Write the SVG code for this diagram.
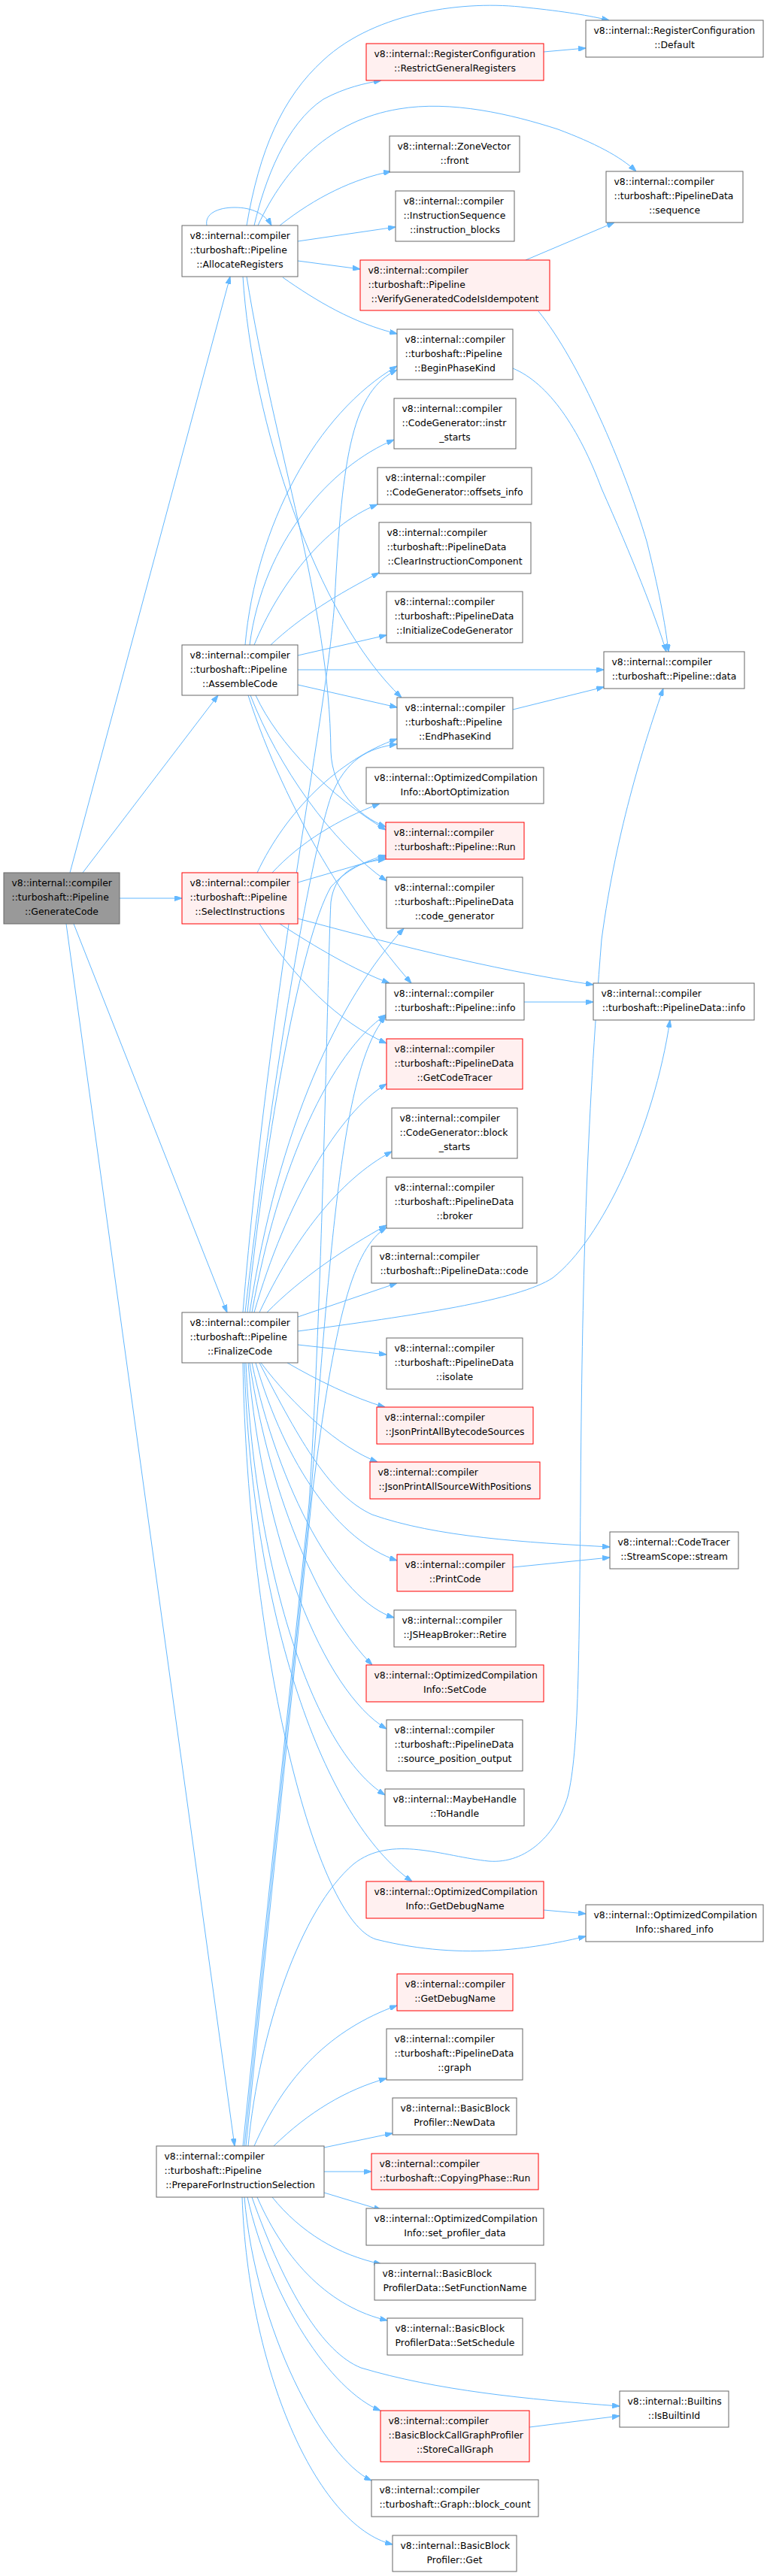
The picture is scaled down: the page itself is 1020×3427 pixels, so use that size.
<svg xmlns="http://www.w3.org/2000/svg" width="1020" height="3427" viewBox="0 0 1020 3427">
<style>
.n rect{fill:#ffffff;stroke:#666666;stroke-width:1}
.r rect{fill:#fff0f0;stroke:#ff0000;stroke-width:1}
.g rect{fill:#999999;stroke:#666666;stroke-width:1}
text{font-family:"DejaVu Sans",sans-serif;font-size:12.4px;fill:#000000}
.m{text-anchor:middle}
#edges path{fill:none;stroke:#63b8ff;stroke-width:1;marker-end:url(#a)}
</style>
<defs>
<marker id="a" viewBox="0 0 10 7" refX="10" refY="3.5" markerWidth="10" markerHeight="7" orient="auto" markerUnits="userSpaceOnUse"><path d="M0,0L10,3.5L0,7z" fill="#63b8ff" stroke="#63b8ff"/></marker>
</defs>
<rect width="1020" height="3427" fill="#ffffff"/>
<g id="edges">
<path d="M93,1161L306,368"/>
<path d="M110,1161L290,925"/>
<path d="M159,1195L242,1195"/>
<path d="M98,1229L302,1746"/>
<path d="M88,1229L312,2855"/>
<path d="M275,300C272,284 290,276 312,276C335,276 352,284 361,300"/>
<path d="M328,300C345,200 375,130 430,80C500,15 620,0 700,10C750,15 785,21 810,27"/>
<path d="M338,300C352,240 380,165 430,132C460,116 485,111 507,107"/>
<path d="M343,300C380,220 440,160 530,145C600,133 680,152 742,172C790,190 825,208 846,228"/>
<path d="M372,300C420,262 470,238 520,228"/>
<path d="M396,321L526,302"/>
<path d="M396,347L479,358"/>
<path d="M376,369C420,400 470,430 528,444"/>
<path d="M323,368C335,560 420,820 534,928"/>
<path d="M328,368C365,600 438,800 440,1000C442,1050 475,1085 513,1100"/>
<path d="M723,69L779,64"/>
<path d="M699,346L817,296"/>
<path d="M716,414C770,480 830,620 860,720C875,780 885,830 889,867"/>
<path d="M682,490C730,510 770,570 800,650C840,740 872,820 886,867"/>
<path d="M326,858C340,700 420,550 528,487"/>
<path d="M332,858C350,720 440,620 524,585"/>
<path d="M338,858C370,780 430,700 502,671"/>
<path d="M360,858C400,820 450,790 504,762"/>
<path d="M396,872L514,845"/>
<path d="M396,891L803,891"/>
<path d="M396,911L528,941"/>
<path d="M340,925C370,990 440,1060 513,1104"/>
<path d="M333,925C370,1020 440,1120 514,1172"/>
<path d="M330,925C380,1080 470,1220 547,1308"/>
<path d="M682,944L803,914"/>
<path d="M342,1161C380,1080 450,1010 528,983"/>
<path d="M362,1161C400,1120 450,1090 505,1069"/>
<path d="M396,1174L513,1140"/>
<path d="M372,1229C420,1260 470,1290 518,1308"/>
<path d="M345,1229C390,1300 450,1360 514,1388"/>
<path d="M396,1222C500,1250 650,1290 789,1310"/>
<path d="M697,1333L789,1333"/>
<path d="M323,1746C360,1300 435,950 445,800C455,600 470,520 528,492"/>
<path d="M326,1746C360,1450 410,1150 440,1060C460,1010 490,995 528,990"/>
<path d="M329,1746C355,1500 400,1250 440,1180C460,1158 485,1145 513,1138"/>
<path d="M332,1746C370,1500 450,1330 537,1235"/>
<path d="M335,1746C370,1550 440,1400 513,1350"/>
<path d="M338,1746C380,1600 450,1480 514,1442"/>
<path d="M345,1746C390,1650 450,1570 521,1532"/>
<path d="M355,1746C400,1700 460,1660 514,1630"/>
<path d="M396,1752L528,1707"/>
<path d="M396,1771C550,1750 690,1730 735,1700C800,1650 870,1500 891,1357"/>
<path d="M396,1789L514,1802"/>
<path d="M382,1813C420,1835 470,1860 512,1872"/>
<path d="M347,1813C390,1870 450,1925 502,1945"/>
<path d="M345,1813C400,1920 440,1990 495,2015C580,2045 700,2052 811,2058"/>
<path d="M340,1813C380,1950 450,2050 528,2076"/>
<path d="M335,1813C370,1980 450,2130 524,2152"/>
<path d="M332,1813C360,2000 430,2150 495,2215"/>
<path d="M330,1813C350,2050 430,2250 514,2300"/>
<path d="M327,1813C340,2100 420,2330 512,2388"/>
<path d="M325,1813C335,2150 430,2420 548,2503"/>
<path d="M323,1813C330,2200 420,2555 500,2580C620,2610 720,2590 779,2576"/>
<path d="M682,2085L811,2072"/>
<path d="M723,2541L779,2546"/>
<path d="M323,2855L411,2000C430,1700 435,1300 440,1200C445,1162 470,1148 513,1143"/>
<path d="M325,2855L413,1995C440,1650 455,1420 513,1352"/>
<path d="M327,2855L415,1990C445,1750 470,1660 514,1633"/>
<path d="M330,2855C345,2700 400,2540 470,2480C520,2440 590,2470 650,2476C700,2480 740,2440 755,2390C770,2330 770,2200 772,2000C774,1700 780,1500 800,1250C820,1100 860,980 882,916"/>
<path d="M338,2855C380,2760 440,2700 528,2668"/>
<path d="M364,2855C410,2810 460,2780 514,2765"/>
<path d="M431,2857L522,2838"/>
<path d="M431,2889L494,2889"/>
<path d="M431,2917L507,2940"/>
<path d="M362,2923C400,2970 450,3000 507,3012"/>
<path d="M342,2923C380,3010 440,3070 515,3087"/>
<path d="M335,2923C380,3050 430,3130 480,3150C580,3180 700,3192 824,3201"/>
<path d="M329,2923C360,3060 440,3180 506,3207"/>
<path d="M325,2923C340,3100 430,3270 494,3300"/>
<path d="M322,2923C330,3150 420,3360 522,3385"/>
<path d="M704,3229L824,3214"/>
</g>
<g id="GC" class="g"><rect x="5" y="1161" width="154" height="68"/><text x="15.5" y="1179.3">v8::internal::compiler</text><text x="15.5" y="1198.3">::turboshaft::Pipeline</text><text x="82" y="1217.3" class="m">::GenerateCode</text></g>
<g id="AR" class="n"><rect x="242" y="300" width="154" height="68"/><text x="252.5" y="318.3">v8::internal::compiler</text><text x="252.5" y="337.3">::turboshaft::Pipeline</text><text x="319" y="356.3" class="m">::AllocateRegisters</text></g>
<g id="AC" class="n"><rect x="242" y="858" width="154" height="67"/><text x="252.5" y="876.3">v8::internal::compiler</text><text x="252.5" y="895.3">::turboshaft::Pipeline</text><text x="319" y="914.3" class="m">::AssembleCode</text></g>
<g id="SI" class="r"><rect x="242" y="1161" width="154" height="68"/><text x="252.5" y="1179.3">v8::internal::compiler</text><text x="252.5" y="1198.3">::turboshaft::Pipeline</text><text x="319" y="1217.3" class="m">::SelectInstructions</text></g>
<g id="FC" class="n"><rect x="242" y="1746" width="154" height="67"/><text x="252.5" y="1764.3">v8::internal::compiler</text><text x="252.5" y="1783.3">::turboshaft::Pipeline</text><text x="319" y="1802.3" class="m">::FinalizeCode</text></g>
<g id="PFIS" class="n"><rect x="208" y="2855" width="223" height="68"/><text x="218.5" y="2873.3">v8::internal::compiler</text><text x="218.5" y="2892.3">::turboshaft::Pipeline</text><text x="319.5" y="2911.3" class="m">::PrepareForInstructionSelection</text></g>
<g id="RGR" class="r"><rect x="487" y="58" width="236" height="49"/><text x="497.5" y="76.3">v8::internal::RegisterConfiguration</text><text x="605" y="95.3" class="m">::RestrictGeneralRegisters</text></g>
<g id="ZVF" class="n"><rect x="518" y="181" width="173" height="48"/><text x="528.5" y="199.3">v8::internal::ZoneVector</text><text x="604.5" y="218.3" class="m">::front</text></g>
<g id="IB" class="n"><rect x="526" y="254" width="158" height="67"/><text x="536.5" y="272.3">v8::internal::compiler</text><text x="536.5" y="291.3">::InstructionSequence</text><text x="605" y="310.3" class="m">::instruction_blocks</text></g>
<g id="VGCI" class="r"><rect x="479" y="346" width="252" height="67"/><text x="489.5" y="364.3">v8::internal::compiler</text><text x="489.5" y="383.3">::turboshaft::Pipeline</text><text x="605" y="402.3" class="m">::VerifyGeneratedCodeIsIdempotent</text></g>
<g id="BPK" class="n"><rect x="528" y="438" width="154" height="67"/><text x="538.5" y="456.3">v8::internal::compiler</text><text x="538.5" y="475.3">::turboshaft::Pipeline</text><text x="605" y="494.3" class="m">::BeginPhaseKind</text></g>
<g id="IS" class="n"><rect x="524" y="530" width="162" height="67"/><text x="534.5" y="548.3">v8::internal::compiler</text><text x="534.5" y="567.3">::CodeGenerator::instr</text><text x="605" y="586.3" class="m">_starts</text></g>
<g id="OI" class="n"><rect x="502" y="622" width="205" height="49"/><text x="512.5" y="640.3">v8::internal::compiler</text><text x="604.5" y="659.3" class="m">::CodeGenerator::offsets_info</text></g>
<g id="CIC" class="n"><rect x="504" y="695" width="202" height="68"/><text x="514.5" y="713.3">v8::internal::compiler</text><text x="514.5" y="732.3">::turboshaft::PipelineData</text><text x="605" y="751.3" class="m">::ClearInstructionComponent</text></g>
<g id="ICG" class="n"><rect x="514" y="787" width="181" height="68"/><text x="524.5" y="805.3">v8::internal::compiler</text><text x="524.5" y="824.3">::turboshaft::PipelineData</text><text x="604.5" y="843.3" class="m">::InitializeCodeGenerator</text></g>
<g id="EPK" class="n"><rect x="528" y="928" width="154" height="68"/><text x="538.5" y="946.3">v8::internal::compiler</text><text x="538.5" y="965.3">::turboshaft::Pipeline</text><text x="605" y="984.3" class="m">::EndPhaseKind</text></g>
<g id="AO" class="n"><rect x="487" y="1021" width="236" height="48"/><text x="497.5" y="1039.3">v8::internal::OptimizedCompilation</text><text x="605" y="1058.3" class="m">Info::AbortOptimization</text></g>
<g id="RUN" class="r"><rect x="513" y="1094" width="184" height="49"/><text x="523.5" y="1112.3">v8::internal::compiler</text><text x="605" y="1131.3" class="m">::turboshaft::Pipeline::Run</text></g>
<g id="CG" class="n"><rect x="514" y="1167" width="181" height="68"/><text x="524.5" y="1185.3">v8::internal::compiler</text><text x="524.5" y="1204.3">::turboshaft::PipelineData</text><text x="604.5" y="1223.3" class="m">::code_generator</text></g>
<g id="PI" class="n"><rect x="513" y="1308" width="184" height="49"/><text x="523.5" y="1326.3">v8::internal::compiler</text><text x="605" y="1345.3" class="m">::turboshaft::Pipeline::info</text></g>
<g id="GCT" class="r"><rect x="514" y="1382" width="181" height="67"/><text x="524.5" y="1400.3">v8::internal::compiler</text><text x="524.5" y="1419.3">::turboshaft::PipelineData</text><text x="604.5" y="1438.3" class="m">::GetCodeTracer</text></g>
<g id="BS" class="n"><rect x="521" y="1474" width="167" height="67"/><text x="531.5" y="1492.3">v8::internal::compiler</text><text x="531.5" y="1511.3">::CodeGenerator::block</text><text x="604.5" y="1530.3" class="m">_starts</text></g>
<g id="BR" class="n"><rect x="514" y="1566" width="181" height="68"/><text x="524.5" y="1584.3">v8::internal::compiler</text><text x="524.5" y="1603.3">::turboshaft::PipelineData</text><text x="604.5" y="1622.3" class="m">::broker</text></g>
<g id="CODE" class="n"><rect x="494" y="1658" width="220" height="49"/><text x="504.5" y="1676.3">v8::internal::compiler</text><text x="604" y="1695.3" class="m">::turboshaft::PipelineData::code</text></g>
<g id="ISO" class="n"><rect x="514" y="1780" width="181" height="68"/><text x="524.5" y="1798.3">v8::internal::compiler</text><text x="524.5" y="1817.3">::turboshaft::PipelineData</text><text x="604.5" y="1836.3" class="m">::isolate</text></g>
<g id="JBS" class="r"><rect x="501" y="1872" width="208" height="49"/><text x="511.5" y="1890.3">v8::internal::compiler</text><text x="605" y="1909.3" class="m">::JsonPrintAllBytecodeSources</text></g>
<g id="JSP" class="r"><rect x="492" y="1945" width="226" height="49"/><text x="502.5" y="1963.3">v8::internal::compiler</text><text x="605" y="1982.3" class="m">::JsonPrintAllSourceWithPositions</text></g>
<g id="PC" class="r"><rect x="528" y="2068" width="154" height="49"/><text x="538.5" y="2086.3">v8::internal::compiler</text><text x="605" y="2105.3" class="m">::PrintCode</text></g>
<g id="RET" class="n"><rect x="524" y="2142" width="162" height="49"/><text x="534.5" y="2160.3">v8::internal::compiler</text><text x="605" y="2179.3" class="m">::JSHeapBroker::Retire</text></g>
<g id="SC" class="r"><rect x="487" y="2215" width="236" height="49"/><text x="497.5" y="2233.3">v8::internal::OptimizedCompilation</text><text x="605" y="2252.3" class="m">Info::SetCode</text></g>
<g id="SPO" class="n"><rect x="514" y="2288" width="181" height="68"/><text x="524.5" y="2306.3">v8::internal::compiler</text><text x="524.5" y="2325.3">::turboshaft::PipelineData</text><text x="604.5" y="2344.3" class="m">::source_position_output</text></g>
<g id="TH" class="n"><rect x="512" y="2380" width="185" height="49"/><text x="522.5" y="2398.3">v8::internal::MaybeHandle</text><text x="604.5" y="2417.3" class="m">::ToHandle</text></g>
<g id="OGDN" class="r"><rect x="487" y="2503" width="236" height="49"/><text x="497.5" y="2521.3">v8::internal::OptimizedCompilation</text><text x="605" y="2540.3" class="m">Info::GetDebugName</text></g>
<g id="GDN" class="r"><rect x="528" y="2626" width="154" height="49"/><text x="538.5" y="2644.3">v8::internal::compiler</text><text x="605" y="2663.3" class="m">::GetDebugName</text></g>
<g id="GR" class="n"><rect x="514" y="2699" width="181" height="68"/><text x="524.5" y="2717.3">v8::internal::compiler</text><text x="524.5" y="2736.3">::turboshaft::PipelineData</text><text x="604.5" y="2755.3" class="m">::graph</text></g>
<g id="ND" class="n"><rect x="522" y="2791" width="165" height="49"/><text x="532.5" y="2809.3">v8::internal::BasicBlock</text><text x="604.5" y="2828.3" class="m">Profiler::NewData</text></g>
<g id="CPR" class="r"><rect x="494" y="2865" width="222" height="48"/><text x="504.5" y="2883.3">v8::internal::compiler</text><text x="605" y="2902.3" class="m">::turboshaft::CopyingPhase::Run</text></g>
<g id="SPD" class="n"><rect x="487" y="2938" width="236" height="49"/><text x="497.5" y="2956.3">v8::internal::OptimizedCompilation</text><text x="605" y="2975.3" class="m">Info::set_profiler_data</text></g>
<g id="SFN" class="n"><rect x="498" y="3011" width="214" height="49"/><text x="508.5" y="3029.3">v8::internal::BasicBlock</text><text x="605" y="3048.3" class="m">ProfilerData::SetFunctionName</text></g>
<g id="SS" class="n"><rect x="515" y="3084" width="180" height="49"/><text x="525.5" y="3102.3">v8::internal::BasicBlock</text><text x="605" y="3121.3" class="m">ProfilerData::SetSchedule</text></g>
<g id="SCG" class="r"><rect x="506" y="3207" width="198" height="68"/><text x="516.5" y="3225.3">v8::internal::compiler</text><text x="516.5" y="3244.3">::BasicBlockCallGraphProfiler</text><text x="605" y="3263.3" class="m">::StoreCallGraph</text></g>
<g id="BC" class="n"><rect x="494" y="3299" width="222" height="49"/><text x="504.5" y="3317.3">v8::internal::compiler</text><text x="605" y="3336.3" class="m">::turboshaft::Graph::block_count</text></g>
<g id="BBG" class="n"><rect x="522" y="3373" width="165" height="48"/><text x="532.5" y="3391.3">v8::internal::BasicBlock</text><text x="604.5" y="3410.3" class="m">Profiler::Get</text></g>
<g id="DEF" class="n"><rect x="779" y="27" width="236" height="49"/><text x="789.5" y="45.3">v8::internal::RegisterConfiguration</text><text x="897" y="64.3" class="m">::Default</text></g>
<g id="SEQ" class="n"><rect x="806" y="228" width="182" height="68"/><text x="816.5" y="246.3">v8::internal::compiler</text><text x="816.5" y="265.3">::turboshaft::PipelineData</text><text x="897" y="284.3" class="m">::sequence</text></g>
<g id="DATA" class="n"><rect x="803" y="867" width="187" height="49"/><text x="813.5" y="885.3">v8::internal::compiler</text><text x="896.5" y="904.3" class="m">::turboshaft::Pipeline::data</text></g>
<g id="PDI" class="n"><rect x="789" y="1308" width="214" height="49"/><text x="799.5" y="1326.3">v8::internal::compiler</text><text x="896" y="1345.3" class="m">::turboshaft::PipelineData::info</text></g>
<g id="STR" class="n"><rect x="811" y="2038" width="171" height="49"/><text x="821.5" y="2056.3">v8::internal::CodeTracer</text><text x="896.5" y="2075.3" class="m">::StreamScope::stream</text></g>
<g id="SHI" class="n"><rect x="779" y="2534" width="236" height="49"/><text x="789.5" y="2552.3">v8::internal::OptimizedCompilation</text><text x="897" y="2571.3" class="m">Info::shared_info</text></g>
<g id="IBI" class="n"><rect x="824" y="3181" width="145" height="48"/><text x="834.5" y="3199.3">v8::internal::Builtins</text><text x="896.5" y="3218.3" class="m">::IsBuiltinId</text></g>
</svg>
